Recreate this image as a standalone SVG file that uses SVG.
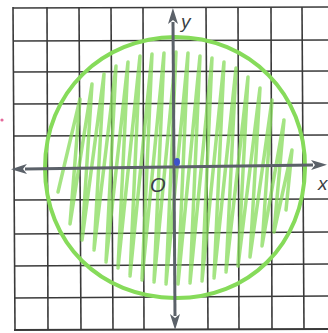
<svg xmlns="http://www.w3.org/2000/svg" width="328" height="333" viewBox="0 0 328 333">
<style>
.grid{stroke:#3a3a3a;stroke-width:1.6;fill:none}
.axis{stroke:#5b6169;stroke-width:3;fill:none}
.lbl{font-family:"Liberation Sans",Arial,sans-serif;font-style:italic;fill:#3a3f46}
.pen{stroke:#86db5a;fill:none;stroke-linecap:round;stroke-linejoin:round}
</style>
<defs>
<marker id="ah" viewBox="0 0 16 10" refX="2" refY="5" markerWidth="16" markerHeight="10" markerUnits="userSpaceOnUse" orient="auto-start-reverse">
<path d="M0,0 L16,5 L0,10 L4,5 Z" fill="#5b6169"/>
</marker>
</defs>
<rect width="328" height="333" fill="#ffffff"/>
<g id="grid" class="grid">
<line x1="13" y1="7" x2="15" y2="330"/>
<line x1="47" y1="7" x2="48" y2="330"/>
<line x1="79" y1="7" x2="81" y2="330"/>
<line x1="111" y1="7" x2="113" y2="330"/>
<line x1="143" y1="7" x2="144" y2="330"/>
<line x1="206" y1="7" x2="208" y2="330"/>
<line x1="238" y1="7" x2="239" y2="330"/>
<line x1="271" y1="7" x2="272" y2="330"/>
<line x1="302" y1="7" x2="304" y2="330"/>
<line x1="13" y1="8" x2="328" y2="7"/>
<line x1="13" y1="41" x2="328" y2="40"/>
<line x1="13" y1="72" x2="328" y2="71"/>
<line x1="13" y1="104" x2="328" y2="103"/>
<line x1="13" y1="136" x2="328" y2="135"/>
<line x1="14" y1="200" x2="328" y2="199"/>
<line x1="14" y1="234" x2="328" y2="232"/>
<line x1="14" y1="266" x2="328" y2="264"/>
<line x1="14" y1="298" x2="328" y2="296"/>
<line x1="14" y1="330" x2="328" y2="329" stroke-width="2.2"/>
</g>
<g id="shading">
<path class="pen" stroke-width="3.5" opacity="0.75" d="M58,192 L80,99 L70,224 L92,84 L82,240 L104,74 L94,250 L116,66 L106,262 L128,62 L118,268 L140,56 L130,276 L152,54 L142,280 L164,53 L154,282 L176,52 L166,284 L188,53 L178,284 L200,56 L190,283 L212,58 L202,281 L224,62 L214,278 L236,68 L226,272 L248,77 L238,266 L260,88 L250,257 L272,100 L262,246 L284,120 L274,232 L292,150 L286,210"/>
</g>
<g id="circle">
<path class="pen" stroke-width="4" d="M175,37 C250,37 306,95 305,168 C304,245 248,299 175,298 C100,297 45,243 45,168 C45,92 102,38 175,37 Z"/>
</g>
<g id="connectors">
<line class="axis" x1="25" y1="169" x2="313" y2="165" marker-start="url(#ah)" marker-end="url(#ah)"/>
<line class="axis" x1="173" y1="22" x2="175" y2="316" marker-start="url(#ah)" marker-end="url(#ah)"/>
</g>
<g id="labels">
<text class="lbl" x="181" y="28" font-size="19">y</text>
<text class="lbl" x="150" y="192" font-size="20">O</text>
<text class="lbl" x="318" y="190" font-size="19">x</text>
</g>
<g id="marks">
<ellipse cx="177" cy="162" rx="3" ry="4" fill="#3d52c9"/>
<circle cx="2" cy="120" r="1.6" fill="#e46a9b"/>
</g>
</svg>
